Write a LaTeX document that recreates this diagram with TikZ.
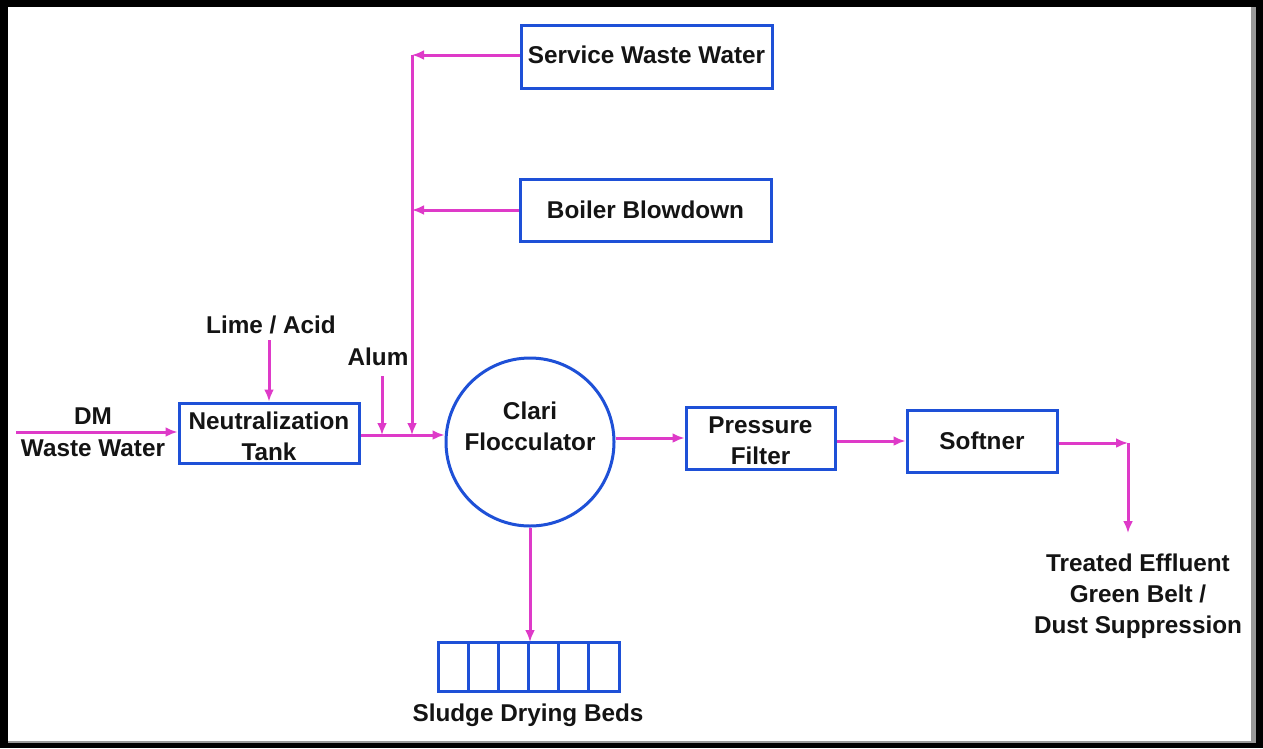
\documentclass[tikz,border=0pt]{standalone}
\usepackage{fontspec}
\setmainfont{Liberation Sans}
\usetikzlibrary{arrows.meta,calc}
\definecolor{pinkline}{RGB}{222,58,200}
\definecolor{boxblue}{RGB}{30,80,215}
\definecolor{txt}{RGB}{20,20,20}
\tikzset{
  box/.style={draw=boxblue, line width=3pt, rectangle, inner sep=0pt, align=center, text=txt, font=\fontsize{24.3}{31}\selectfont\bfseries},
  lbl/.style={inner sep=0pt, align=center, text=txt, font=\fontsize{24.3}{31}\selectfont\bfseries},
  flow/.style={draw=pinkline, line width=3pt, -{Latex[length=12pt,width=10pt]}},
}
\begin{document}
\begin{tikzpicture}[x=1pt,y=-1pt]
\useasboundingbox (0,0) rectangle (1263,748);
\fill[black] (0,0) rectangle (1263,748);
\fill[black!40] (8,7) rectangle (1256,743);
\fill[white] (8,7) rectangle (1251,741);

% boxes
\node[box, minimum width=251pt, minimum height=63pt] (sww) at (646.5,56.5) {};
\node[lbl] (swwt) at (646.5,55) {Service Waste Water};
\node[box, minimum width=251pt, minimum height=62pt] (bb) at (645.5,210) {Boiler Blowdown};
\node[box, minimum width=180pt, minimum height=60pt] (nt) at (269,433) {};
\node[lbl] (ntt) at (269,436) {Neutralization\\Tank};
\node[draw=boxblue, line width=3pt, circle, minimum size=168pt, inner sep=0pt] (cf) at (530,442) {};
\node[lbl] (cft) at (530,426) {Clari\\Flocculator};
\node[box, minimum width=149pt, minimum height=62pt] (pf) at (760.5,438) {};
\node[lbl] (pft) at (760.5,441) {Pressure\\Filter};
\node[box, minimum width=150pt, minimum height=62pt] (sof) at (982,441) {Softner};
\node[draw=boxblue, line width=3pt, rectangle, minimum width=181pt, minimum height=49pt, inner sep=0pt, outer sep=0pt] (sdb) at (528.5,666.5) {};
\foreach \i in {1,...,5}{
  \draw[boxblue, line width=3pt] ($(sdb.north west)!\i/6!(sdb.north east)$) -- ($(sdb.south west)!\i/6!(sdb.south east)$);
}

% labels
\node[lbl] (dm) at (93,416) {DM};
\node[lbl] (ww) at (93,448) {Waste Water};
\node[lbl] (lime) at (271,325) {Lime / Acid};
\node[lbl] (alum) at (378,357) {Alum};
\node[lbl] (sdbt) at (528,715) {Sludge Drying Beds};
\node[lbl] (out) at (1138,596) {Treated Effluent\\Green Belt /\\Dust Suppression};

% coordinates
\coordinate (dmstart) at (16,432);
\coordinate (limetop) at (269,340);
\coordinate (alumtop) at (382,376);
\coordinate (j1) at (382,435);
\coordinate (j2) at (412,435);
\coordinate (vtop) at (412,55);
\coordinate (corner) at (1128,443);
\coordinate (outend) at (1128,533);

% connectors
\draw[flow] (dmstart) -- (nt.west |- dmstart);
\draw[flow] (limetop) -- (nt.north);
\draw[flow] (nt.east |- j1) -- (cf.west |- j1);
\draw[flow] (alumtop) -- (j1);
\draw[flow] (vtop) -- (j2);
\draw[flow] (sww.west |- vtop) -- (vtop);
\draw[flow] (bb.west) -- (bb.west -| vtop);
\draw[flow] (cf.east |- pf) -- (pf.west);
\draw[flow] (pf.east |- sof) -- (sof.west);
\draw[flow] (sof.east |- corner) -- (corner);
\draw[flow] (corner) -- (outend);
\draw[flow] (cf.south) -- (cf.south |- sdb.north);
\end{tikzpicture}
\end{document}
